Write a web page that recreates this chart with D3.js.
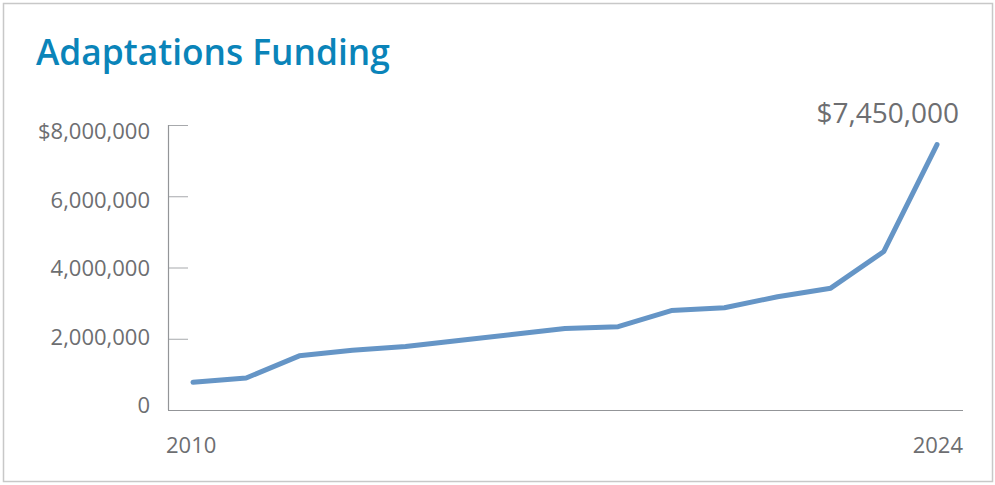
<!DOCTYPE html>
<html><head><meta charset="utf-8">
<script src="https://cdn.jsdelivr.net/npm/d3@7"></script>
<style>html,body{margin:0;padding:0;background:#fff;}svg{display:block;}</style>
</head><body>
<svg id="c" width="995" height="485"></svg>
<script>
const years = [2010,2011,2012,2013,2014,2015,2016,2017,2018,2019,2020,2021,2022,2023,2024];
const funding = [780000,900000,1520000,1680000,1780000,1950000,2120000,2290000,2340000,2790000,2870000,3180000,3420000,4450000,7450000];
const yTicks = [0,2000000,4000000,6000000,8000000];
const xTickLabels = ["2010","2024"];
const title = "Adaptations Funding";
const endLabel = "$7,450,000";

const svg = d3.select("#c");
const gray = "#6d6e71";
const font = "'Open Sans', 'Noto Sans', sans-serif";

// frame
svg.append("rect").attr("x",3.5).attr("y",3.5).attr("width",989).attr("height",478)
  .attr("fill","none").attr("stroke","#c8c8c8").attr("stroke-width",1.5);

svg.append("text").attr("x",36).attr("y",65).text(title)
  .attr("font-family",font).attr("font-weight",600).attr("font-size",35.3)
  .attr("fill","#0a84b9");

const x = d3.scaleLinear().domain([2010,2024]).range([193,937]);
const y = d3.scaleLinear().domain([0,8000000]).range([410,125]);
// tick labels sit on a slightly tighter spacing than the ticks in the reference
const yLab = d3.scaleLinear().domain([0,8000000]).range([413,139]);

// y axis
const ya = svg.append("g").attr("transform","translate(168,0)")
  .call(d3.axisRight(y).tickValues(yTicks).tickSize(20).tickFormat(""));
ya.select(".domain").remove();
ya.selectAll("line").attr("stroke","#a7a9ac").attr("stroke-width",1);
svg.append("line").attr("x1",168.5).attr("x2",168.5).attr("y1",y(8000000)).attr("y2",410)
  .attr("stroke","#939598").attr("stroke-width",1.2);
svg.append("line").attr("x1",168).attr("x2",963).attr("y1",410.5).attr("y2",410.5)
  .attr("stroke","#939598").attr("stroke-width",1.2);

const fmt = d3.format(",");
svg.selectAll("text.yl").data(yTicks).join("text").attr("class","yl")
  .attr("x",150).attr("y",d=>yLab(d)).attr("text-anchor","end")
  .attr("font-family",font).attr("font-size",22).attr("fill",gray)
  .text(d=> d===8000000 ? "$"+fmt(d) : fmt(d));

svg.append("text").attr("x",166).attr("y",453).text(xTickLabels[0])
  .attr("font-family",font).attr("font-size",22).attr("fill",gray);
svg.append("text").attr("x",963).attr("y",453).attr("text-anchor","end").text(xTickLabels[1])
  .attr("font-family",font).attr("font-size",22).attr("fill",gray);

const line = d3.line().x((d,i)=>x(years[i])).y(d=>y(d));
svg.append("path").attr("d",line(funding)).attr("fill","none")
  .attr("stroke","#6595c6").attr("stroke-width",5)
  .attr("stroke-linejoin","round").attr("stroke-linecap","round");

svg.append("text").attr("x",959).attr("y",123).attr("text-anchor","end").text(endLabel)
  .attr("font-family",font).attr("font-size",28).attr("fill",gray);
</script>
</body></html>
